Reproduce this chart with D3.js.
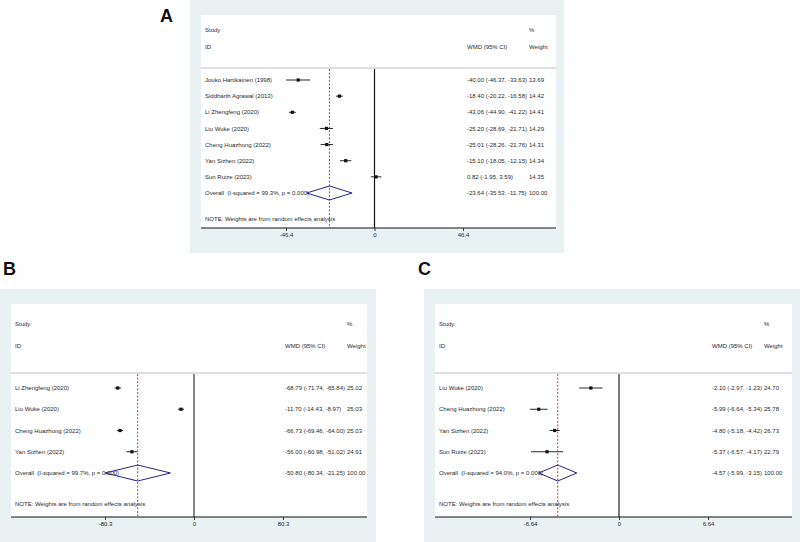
<!DOCTYPE html>
<html>
<head>
<meta charset="utf-8">
<script src="https://cdn.jsdelivr.net/npm/d3@7"></script>
<style>
  body { margin: 0; background: #fff; }
  svg text { font-family: "Liberation Sans", Arial, sans-serif; }
</style>
</head>
<body>
<div id="chart"></div>
<script>
// forest plots A, B, C (WMD with 95% CI, random effects)

// panel A
const studiesA = ["Jouko Hartikainen (1998)", "Siddharth Agrawal (2013)", "Li Zhengfeng (2020)",
  "Liu Wuke (2020)", "Cheng Huazhong (2022)", "Yan Sizhen (2022)", "Sun Ruize (2023)"];
const wmdA = [-40.00, -18.40, -43.06, -25.20, -25.01, -15.10, 0.82];
const lowA = [-46.37, -20.22, -44.90, -28.69, -28.26, -18.05, -1.95];
const highA = [-33.63, -16.58, -41.22, -21.71, -21.76, -12.15, 3.59];
const weightA = ["13.69", "14.42", "14.41", "14.29", "14.31", "14.34", "14.35"];
const overallA = [-23.64, -35.53, -11.75];
const i2A = "99.3%";
const ticksA = [-46.4, 0, 46.4];

// panel B
const studiesB = ["Li Zhengfeng (2020)", "Liu Wuke (2020)", "Cheng Huazhong (2022)", "Yan Sizhen (2022)"];
const wmdB = [-68.79, -11.70, -66.73, -56.00];
const lowB = [-71.74, -14.43, -69.46, -60.98];
const highB = [-65.84, -8.97, -64.00, -51.02];
const weightB = ["25.02", "25.03", "25.03", "24.91"];
const overallB = [-50.80, -80.34, -21.25];
const i2B = "99.7%";
const ticksB = [-80.3, 0, 80.3];

// panel C
const studiesC = ["Liu Wuke (2020)", "Cheng Huazhong (2022)", "Yan Sizhen (2022)", "Sun Ruize (2023)"];
const wmdC = [-2.10, -5.99, -4.80, -5.37];
const lowC = [-2.97, -6.64, -5.18, -6.57];
const highC = [-1.23, -5.34, -4.42, -4.17];
const weightC = ["24.70", "25.78", "26.73", "22.79"];
const overallC = [-4.57, -5.99, -3.15];
const i2C = "94.0%";
const ticksC = [-6.64, 0, 6.64];

const svg = d3.select("#chart").append("svg")
  .attr("width", 800)
  .attr("height", 542);

const fmt = (v) => v.toFixed(2);

const drawForest = (cfg, data) => {
  const g = svg.append("g");
  const txt = "#2a2a2a";
  const fs = 6;

  // graph region + plot region
  g.append("rect").attr("x", cfg.bg[0]).attr("y", cfg.bg[1])
    .attr("width", cfg.bg[2] - cfg.bg[0]).attr("height", cfg.bg[3] - cfg.bg[1])
    .attr("fill", "#e9f1f3");
  g.append("rect").attr("x", cfg.box[0]).attr("y", cfg.box[1])
    .attr("width", cfg.box[2] - cfg.box[0]).attr("height", cfg.box[3] - cfg.box[1])
    .attr("fill", "#fff");

  // panel letter
  svg.append("text").attr("x", cfg.letter[0]).attr("y", cfg.letter[1])
    .attr("font-size", 18).attr("font-weight", "bold").attr("fill", "#111")
    .text(cfg.name);

  const x = d3.scaleLinear()
    .domain([data.ticks[0], data.ticks[2]])
    .range(cfg.xr);

  const rows = data.studies.concat(["__overall"]);
  const y = d3.scalePoint().domain(rows).range(cfg.yr);

  const addText = (tx, ty, s) => g.append("text")
    .attr("x", tx).attr("y", ty).attr("dy", "0.35em")
    .attr("font-size", fs).attr("fill", txt).text(s);

  // header
  addText(cfg.labelX, cfg.head[0], "Study");
  addText(cfg.labelX, cfg.head[1], "ID");
  addText(cfg.wX, cfg.head[0], "%");
  addText(cfg.valX, cfg.head[1], "WMD (95% CI)");
  addText(cfg.wX, cfg.head[1], "Weight");

  g.append("line").attr("x1", cfg.box[0]).attr("x2", cfg.box[2])
    .attr("y1", cfg.sepY).attr("y2", cfg.sepY)
    .attr("stroke", "#d4d6d8").attr("stroke-width", 1.6);

  // no-effect line and overall dashed line
  g.append("line").attr("x1", x(0)).attr("x2", x(0))
    .attr("y1", cfg.sepY + 1).attr("y2", cfg.box[3])
    .attr("stroke", cfg.zeroColor).attr("stroke-width", cfg.zeroWidth);
  g.append("line").attr("x1", x(data.overall[0])).attr("x2", x(data.overall[0]))
    .attr("y1", cfg.sepY + 1).attr("y2", cfg.box[3])
    .attr("stroke", "#b0283a").attr("stroke-width", 0.9)
    .attr("stroke-dasharray", "2,1.6");

  // study rows
  const idx = d3.range(data.studies.length);
  g.selectAll(".ci").data(idx).join("line")
    .attr("x1", (i) => x(data.low[i])).attr("x2", (i) => x(data.high[i]))
    .attr("y1", (i) => y(data.studies[i])).attr("y2", (i) => y(data.studies[i]))
    .attr("stroke", "#111").attr("stroke-width", 0.9);
  g.selectAll(".pt").data(idx).join("rect")
    .attr("x", (i) => x(data.wmd[i]) - 1.6).attr("y", (i) => y(data.studies[i]) - 1.6)
    .attr("width", 3.2).attr("height", 3.2).attr("fill", "#111");

  idx.forEach((i) => {
    const ry = y(data.studies[i]);
    addText(cfg.labelX, ry, data.studies[i]);
    addText(cfg.valX, ry, `${fmt(data.wmd[i])} (${fmt(data.low[i])}, ${fmt(data.high[i])})`);
    addText(cfg.wX, ry, data.weight[i]);
  });

  // overall diamond
  const oy = y("__overall");
  const o = data.overall;
  g.append("polygon")
    .attr("points", [[x(o[1]), oy], [x(o[0]), oy - cfg.dh], [x(o[2]), oy], [x(o[0]), oy + cfg.dh]]
      .map((p) => p.join(",")).join(" "))
    .attr("fill", "none").attr("stroke", "#24248c").attr("stroke-width", 1);
  addText(cfg.labelX, oy, `Overall  (I-squared = ${data.i2}, p = 0.000)`)
    .attr("xml:space", "preserve");
  addText(cfg.valX, oy, `${fmt(o[0])} (${fmt(o[1])}, ${fmt(o[2])})`);
  addText(cfg.wX, oy, "100.00");

  addText(cfg.labelX, cfg.noteY, "NOTE: Weights are from random effects analysis");

  // x axis
  g.append("line").attr("x1", cfg.box[0]).attr("x2", cfg.box[2])
    .attr("y1", cfg.box[3]).attr("y2", cfg.box[3])
    .attr("stroke", "#111").attr("stroke-width", 1);
  const ax = g.append("g")
    .attr("transform", `translate(0,${cfg.box[3]})`)
    .call(d3.axisBottom(x).tickValues(data.ticks)
      .tickFormat((d) => String(d)).tickSize(3).tickSizeOuter(0).tickPadding(2));
  ax.select(".domain").remove();
  ax.selectAll("line").attr("stroke", "#111").attr("stroke-width", 0.8);
  ax.selectAll("text").attr("font-size", fs).attr("fill", txt)
    .attr("font-family", "Liberation Sans, Arial, sans-serif");
};

drawForest({
  name: "A", letter: [160, 22],
  bg: [190, 0, 564, 253], box: [201, 15, 556, 228],
  head: [30, 47], sepY: 68, yr: [80, 193], noteY: 219,
  labelX: 205, valX: 467, wX: 529, xr: [286, 463],
  zeroColor: "#111", zeroWidth: 1.2, dh: 7
}, { studies: studiesA, wmd: wmdA, low: lowA, high: highA, weight: weightA,
     overall: overallA, i2: i2A, ticks: ticksA });

drawForest({
  name: "B", letter: [3, 275],
  bg: [0, 289, 376, 542], box: [11, 304, 367, 517],
  head: [324, 346], sepY: 373, yr: [388, 473], noteY: 504,
  labelX: 15, valX: 285, wX: 347, xr: [105, 283],
  zeroColor: "#7a7a7a", zeroWidth: 1.8, dh: 8
}, { studies: studiesB, wmd: wmdB, low: lowB, high: highB, weight: weightB,
     overall: overallB, i2: i2B, ticks: ticksB });

drawForest({
  name: "C", letter: [418, 275],
  bg: [424, 289, 800, 542], box: [435, 304, 792, 517],
  head: [324, 346], sepY: 373, yr: [388, 473], noteY: 504,
  labelX: 439, valX: 712, wX: 764, xr: [530, 708],
  zeroColor: "#111", zeroWidth: 1.1, dh: 8
}, { studies: studiesC, wmd: wmdC, low: lowC, high: highC, weight: weightC,
     overall: overallC, i2: i2C, ticks: ticksC });
</script>
</body>
</html>
